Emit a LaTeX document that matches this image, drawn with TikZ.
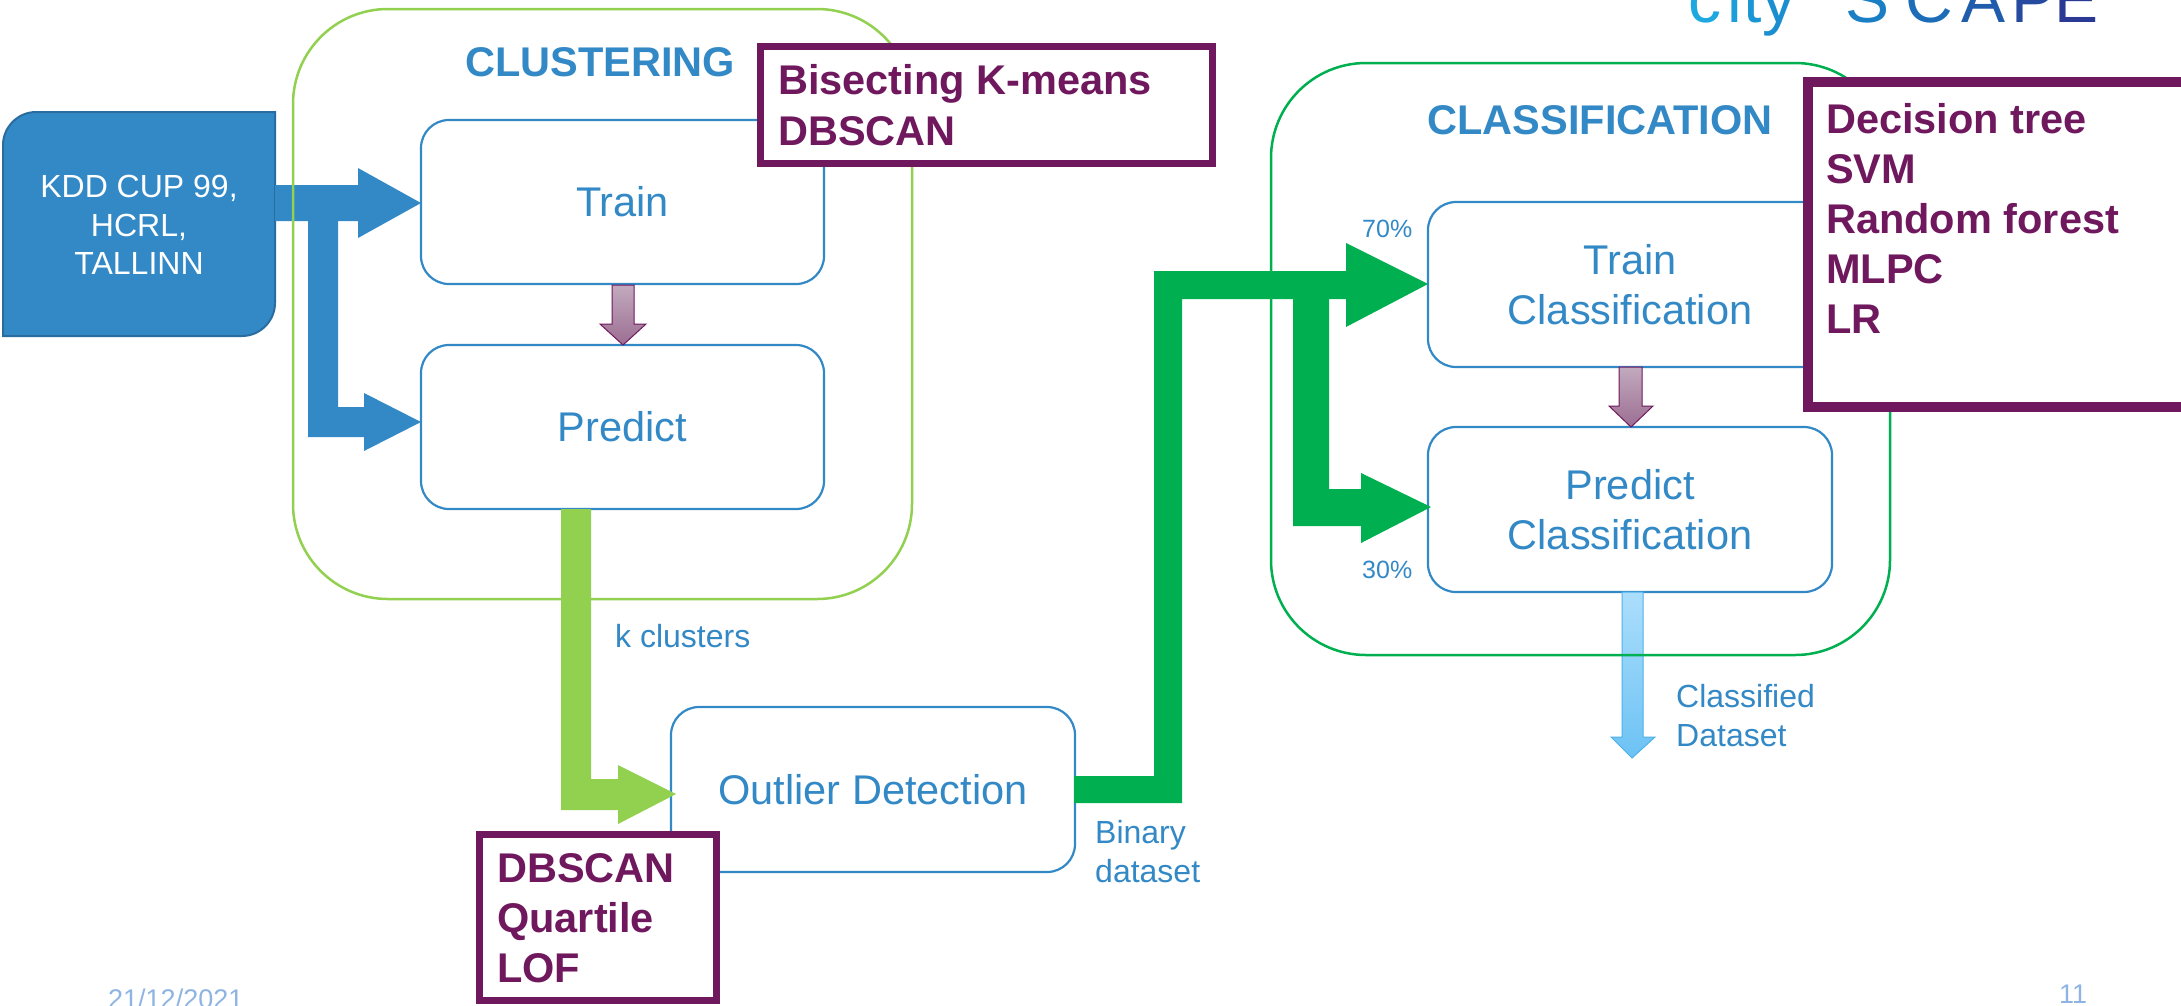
\documentclass[tikz,border=0pt]{standalone}
\usepackage{fontspec}
\setmainfont{Liberation Sans}

\definecolor{flowblue}{RGB}{51,137,198}
\definecolor{kddedge}{RGB}{40,108,160}
\definecolor{lightgreen}{RGB}{146,208,80}
\definecolor{darkgreen}{RGB}{0,176,80}
\definecolor{algpurple}{RGB}{112,24,94}
\definecolor{mauvetop}{RGB}{194,170,190}
\definecolor{mauvebot}{RGB}{156,110,146}
\definecolor{skytop}{RGB}{172,222,252}
\definecolor{skybot}{RGB}{108,194,244}
\definecolor{skyedge}{RGB}{78,178,234}
\definecolor{footgray}{RGB}{142,180,227}
\definecolor{logoA}{RGB}{30,168,224}
\definecolor{logoB}{RGB}{28,158,218}
\definecolor{logoC}{RGB}{27,150,212}
\definecolor{logoD}{RGB}{26,142,206}
\definecolor{logoE}{RGB}{26,126,196}
\definecolor{logoF}{RGB}{28,108,184}
\definecolor{logoG}{RGB}{32,92,172}
\definecolor{logoH}{RGB}{37,74,160}
\definecolor{logoI}{RGB}{42,58,148}

\tikzset{
  stagebox/.style={draw=flowblue, line width=2.2pt, rounded corners=28pt,
    minimum width=403pt, minimum height=164pt, inner sep=0pt, align=center,
    text=flowblue, font=\fontsize{41.5}{50}\selectfont},
  container/.style={line width=2.5pt, rounded corners=95pt, inner sep=0pt},
  algbox/.style={draw=algpurple, fill=white, inner sep=0pt},
  algtext/.style={anchor=west, align=left, inner sep=0pt, text=algpurple,
    font=\bfseries\fontsize{41.5}{50}\selectfont},
  title/.style={inner sep=0pt, text=flowblue, font=\bfseries\fontsize{41.5}{50}\selectfont},
  note/.style={inner sep=0pt, text=flowblue, font=\fontsize{32}{39}\selectfont},
  pct/.style={inner sep=0pt, anchor=base west, text=flowblue, font=\fontsize{25}{30}\selectfont},
  foot/.style={inner sep=0pt, text=footgray, font=\fontsize{27}{32}\selectfont},
  logo/.style={inner sep=0pt, anchor=base, font=\fontsize{66}{66}\selectfont},
  mauvearrow/.style={top color=mauvetop, bottom color=mauvebot, draw=algpurple, line width=1pt},
  skyarrow/.style={top color=skytop, bottom color=skybot, draw=skyedge, line width=1pt},
}

\begin{document}
\begin{tikzpicture}[x=1pt, y=-1pt]
\useasboundingbox (0,0) rectangle (2181,1005);
\fill[white] (0,0) rectangle (2181,1005);

% logo, partly above the page edge
\node[logo, text=logoA] (lc) at (1705,22) {c};
\node[logo, text=logoB] (li) at (1735,22) {i};
\node[logo, text=logoC] (lt) at (1753,22) {t};
\node[logo, text=logoD] (ly) at (1779,22) {y};
\node[logo, text=logoE] (lS) at (1867,22) {S};
\node[logo, text=logoF] (lC) at (1929,22) {C};
\node[logo, text=logoG] (lA) at (1983,22) {A};
\node[logo, text=logoH] (lP) at (2033,22) {P};
\node[logo, text=logoI] (lE) at (2076,22) {E};

% data source
\filldraw[fill=flowblue, draw=kddedge, line width=2pt]
  (3,336) -- (3,145) .. controls (3,127) and (18,112) .. (36,112) -- (275,112)
  -- (275,303) .. controls (275,321) and (260,336) .. (242,336) -- cycle;
\node[inner sep=0pt, align=center, text=white, font=\fontsize{32}{38.5}\selectfont]
  (kdd) at (139,225) {KDD CUP 99,\\HCRL,\\TALLINN};

% processing steps
\node[stagebox] (train) at (622.5,202) {Train};
\node[stagebox] (predict) at (622.5,427) {Predict};
\node[stagebox, minimum width=404pt, minimum height=165pt] (outlier) at (873,789.5) {Outlier Detection};
\node[stagebox, minimum width=404pt, minimum height=165pt] (trainC) at (1630,284.5) {Train\\Classification};
\node[stagebox, minimum width=404pt, minimum height=165pt] (predictC) at (1630,509.5) {Predict\\Classification};

% input arrow splitting to train and predict
\fill[flowblue] (275,185) -- (358,185) -- (358,168) -- (421,203) -- (358,238) -- (358,221)
  -- (338,221) -- (338,407) -- (364,407) -- (364,393) -- (421,422) -- (364,451)
  -- (364,437) -- (308,437) -- (308,221) -- (275,221) -- cycle;

% k clusters to outlier detection
\fill[lightgreen] (561,509) -- (591,509) -- (591,779) -- (618,779) -- (618,765)
  -- (676,794) -- (618,824) -- (618,810) -- (561,810) -- cycle;

% binary dataset split 70/30
\fill[darkgreen] (1074,776) -- (1154,776) -- (1154,271) -- (1346,271) -- (1346,243)
  -- (1428,284) -- (1346,327) -- (1346,299) -- (1329,299) -- (1329,489) -- (1361,489)
  -- (1361,473) -- (1431,507) -- (1361,543) -- (1361,526) -- (1293,526) -- (1293,299)
  -- (1182,299) -- (1182,803) -- (1074,803) -- cycle;

% model hand-over arrows
\path[mauvearrow] (612,285) -- (634,285) -- (634,324) -- (646,324) -- (623,345)
  -- (600,324) -- (612,324) -- cycle;
\path[mauvearrow] (1619,367) -- (1642,367) -- (1642,406) -- (1653,406) -- (1631,427)
  -- (1609,406) -- (1619,406) -- cycle;

% classified output
\path[skyarrow] (1622,592) -- (1643,592) -- (1643,737) -- (1655,737) -- (1632,758)
  -- (1611,737) -- (1622,737) -- cycle;

% stage containers
\node[container, draw=lightgreen, minimum width=619pt, minimum height=590pt] (clust) at (602.5,304) {};
\node[container, draw=darkgreen, minimum width=619pt, minimum height=592pt] (classif) at (1580.5,359) {};
\node[title] (clusttitle) at (600,62) {CLUSTERING};
\node[title] (classiftitle) at (1600,120) {CLASSIFICATION};

% algorithm boxes
\node[algbox, line width=7pt, minimum width=452pt, minimum height=117pt] (bisectbox) at (986.5,105) {};
\node[algtext, font=\bfseries\fontsize{41.5}{51}\selectfont] (bisecttext) at (778,105) {Bisecting K-means\\DBSCAN};
\node[algbox, line width=7pt, minimum width=237pt, minimum height=166pt] (outalgbox) at (598,917.5) {};
\node[algtext] (outalgtext) at (497,918) {DBSCAN\\Quartile\\LOF};
\node[algbox, line width=10pt, minimum width=392pt, minimum height=325pt] (classalgbox) at (2004,244.5) {};
\node[algtext] (classalgtext) at (1826,218) {Decision tree\\SVM\\Random forest\\MLPC\\LR};

% flow labels
\node[note, anchor=base west] (kclusters) at (615,647) {k clusters};
\node[note, anchor=north west, align=left] (binary) at (1095,820) {Binary\\dataset};
\node[note, anchor=north west, align=left] (classified) at (1676,684) {Classified\\Dataset};
\node[pct] (seventy) at (1362,237) {70\%};
\node[pct] (thirty) at (1362,578) {30\%};

% footer
\node[foot, anchor=base west] (date) at (108,1008) {21/12/2021};
\node[foot, anchor=base] (pagenum) at (2073,1003) {11};
\end{tikzpicture}
\end{document}
